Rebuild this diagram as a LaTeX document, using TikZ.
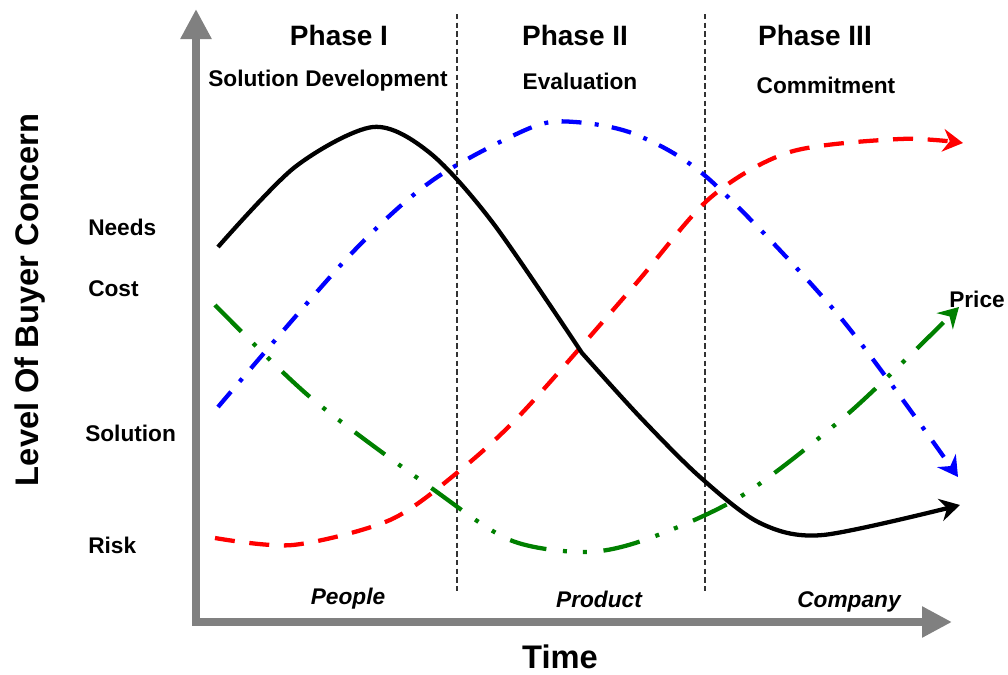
\documentclass[tikz,border=0pt]{standalone}
\usepackage{fontspec}
\setmainfont{Liberation Sans}
\usetikzlibrary{arrows.meta}

\begin{document}
\begin{tikzpicture}[x=0.75pt, y=-0.75pt,
                  every node/.style={inner sep=0pt, font=\bfseries\fontsize{17}{20}\selectfont},
                  phase/.style={font=\bfseries\fontsize{21}{25}\selectfont},
                  stage/.style={font=\bfseries\itshape\fontsize{17}{20}\selectfont},
                  axislabel/.style={font=\bfseries\fontsize{24.5}{29}\selectfont},
                  axis/.style={line width=6pt, draw=gray, line join=miter,
                    {Triangle[length=22.5pt, width=22pt]}-{Triangle[length=22.5pt, width=22pt]}},
                  divider/.style={line width=0.9pt, black!80, dash pattern=on 4pt off 2.5pt},
                  curve/.style={line width=3.2pt, -{Stealth[length=15pt, width=17pt, inset=5pt]}}]
    \useasboundingbox (0,0) rectangle (1008,675);
    \coordinate (O) at (196,622);
    \coordinate (ytip) at (196,9);
    \coordinate (xtip) at (952,622);
    \draw[axis] (ytip) -- (O) -- (xtip);

    \coordinate (d1top) at (457,14);
    \coordinate (d1bot) at (457,592);
    \coordinate (d2top) at (705,14);
    \coordinate (d2bot) at (705,592);
    \draw[divider] (d1top) -- (d1bot);
    \draw[divider] (d2top) -- (d2bot);

    \node[phase] (phaseI) at (339,35) {Phase I};
    \node[phase] (phaseII) at (575,35) {Phase II};
    \node[phase] (phaseIII) at (815,35) {Phase III};
    \node (dev) at (328,81) {Solution Development};
    \node (eval) at (580,81) {Evaluation};
    \node (commit) at (826,85) {Commitment};

    \node[anchor=west] (needs) at (88,227) {Needs};
    \node[anchor=west] (cost) at (88,289) {Cost};
    \node[anchor=west] (solution) at (85,433) {Solution};
    \node[anchor=west] (risk) at (88,545) {Risk};
    \node[anchor=west] (price) at (949,299) {Price};

    \node[stage] (people) at (348,599) {People};
    \node[stage] (product) at (599,599) {Product};
    \node[stage] (company) at (849,602) {Company};

    \node[axislabel] (time) at (560,657) {Time};
    \node[axislabel, rotate=90] (concern) at (30,300) {Level Of Buyer Concern};

    \draw[curve, green!50!black, dash pattern=on 28pt off 12.5pt on 3pt off 12pt on 3pt off 12.5pt]
      plot[smooth] coordinates {(215,305) (310,397) (430,487) (510,540) (587,552)
        (650,538) (743,495) (850,412) (959,307)};
    \draw[curve, red, dash pattern=on 15pt off 11pt]
      plot[smooth] coordinates {(215,538) (293,545) (390,520) (458,472) (522,413)
        (633,287) (710,198) (790,152) (900,139) (963,143)};
    \draw[curve, blue, dash pattern=on 15pt off 10pt on 3pt off 10pt]
      plot[smooth] coordinates {(218,407) (350,255) (433,180) (530,128) (575,122)
        (637,135) (710,180) (840,317) (958,477)};
    \draw[curve, black]
      plot[smooth] coordinates {(218,247) (295,167) (373,127) (430,153) (493,223) (582,353)}
      -- plot[smooth] coordinates {(582,353) (640,417) (700,477) (760,523) (823,535) (960,505)};
  \end{tikzpicture}
\end{document}
